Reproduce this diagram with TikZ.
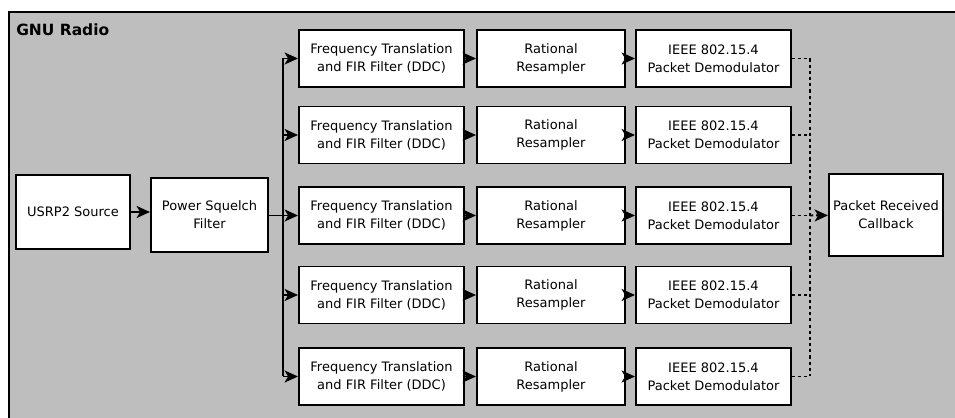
\documentclass[tikz,border=0pt]{standalone}
\usepackage{fontspec}
\setmainfont{DejaVu Sans}
\usepackage{xcolor}
\usetikzlibrary{positioning,arrows.meta}

\definecolor{radiogray}{RGB}{190,190,190}

\tikzset{
  block/.style={draw, fill=white, line width=1.4pt, align=center, inner sep=0pt,
    font=\fontsize{9.25}{12.8}\selectfont},
  ddc block/.style={block, minimum width=4.125cm, minimum height=1.425cm},
  resamp block/.style={block, minimum width=3.7cm, minimum height=1.425cm},
  demod block/.style={block, minimum width=3.875cm, minimum height=1.425cm},
  link/.style={line width=1.4pt},
  dotlink/.style={line width=1.4pt, dash pattern=on 2.2pt off 2.2pt}
}

\begin{document}
\begin{tikzpicture}[x=0.025cm, y=-0.025cm, >={Stealth[length=9.5pt,width=8.5pt,inset=2.5pt]}]

\clip (0,0) rectangle (955,418);
\draw [line width=1.4pt, fill=radiogray] (9,12) rectangle (980,440);
\node [anchor=west, inner sep=0pt, font=\fontsize{11}{13}\selectfont\bfseries] (title) at (16,30) {GNU Radio};

\node [block, minimum width=2.85cm, minimum height=1.85cm] (usrp) at (73,212) {USRP2 Source};
\node [block, minimum width=2.925cm, minimum height=1.85cm] (squelch) at (209.5,215) {Power Squelch\\Filter};
\node [block, minimum width=2.85cm, minimum height=2.05cm] (callback) at (886,215) {Packet Received\\Callback};

% one channel per row
\foreach \y [count=\i] in {58.5,135,215.5,295,376.5} {
  \node [ddc block] (ddc-\i) at (381.5,\y) {Frequency Translation\\and FIR Filter (DDC)};
  \node [resamp block] (resamp-\i) at (551,\y) {Rational\\Resampler};
  \node [demod block] (demod-\i) at (713.5,\y) {IEEE 802.15.4\\Packet Demodulator};
}

\coordinate (split) at (283,215.5);
\coordinate (join) at (810,215.5);

\draw [link, ->] (usrp) -- (usrp -| squelch.west);
\draw [link] (squelch.east |- split) -- (split);
\draw [link] (split |- ddc-1) -- (split |- ddc-5);

\foreach \i in {1,...,5} {
  \draw [link, ->] (split |- ddc-\i) -- (ddc-\i);
  \draw [link, ->] (ddc-\i) -- (resamp-\i);
  \draw [link, ->] (resamp-\i) -- (demod-\i);
  \draw [dotlink] (demod-\i) -- (join |- demod-\i);
}

\draw [dotlink] (join |- demod-1) -- (join |- demod-5);
\draw [dotlink, ->] (join) -- (callback);

\end{tikzpicture}
\end{document}
